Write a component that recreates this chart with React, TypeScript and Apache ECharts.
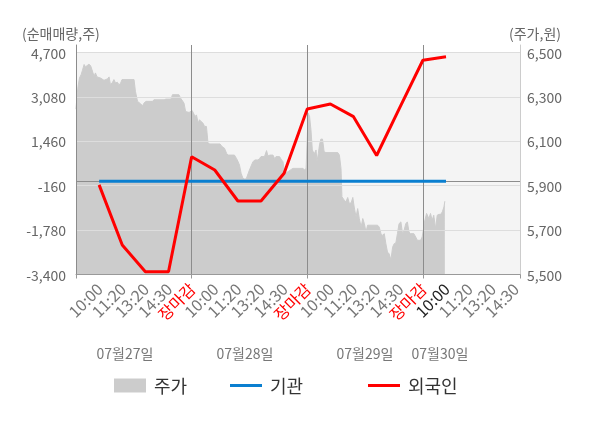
import React, { useEffect, useRef } from 'react';
import * as echarts from 'echarts';

// x-axis tick labels (index units); index 0 = session open of first day (no label)
const xLabels = [
  '', '10:00', '11:20', '13:20', '14:30', '장마감',
  '10:00', '11:20', '13:20', '14:30', '장마감',
  '10:00', '11:20', '13:20', '14:30', '장마감',
  '10:00', '11:20', '13:20', '14:30',
];
const currentIndex = 16;
const dayBoundaries = [5, 10, 15];
const dateLabels = ['07월27일', '07월28일', '07월29일', '07월30일'];

// net buy (shares) at indices 1..16
const foreignNet = [-130, -2324, -3298, -3298, 898, 413, -718, -718, 292, 2639, 2822, 2358, 942, 2690, 4416, 4547];
const institutionNet = [0, 0, 0, 0, 0, 0, 0, 0, 0, 0, 0, 0, 0, 0, 0, 0];

const leftTicks = [-3400, -1780, -160, 1460, 3080, 4700];
const rightTicks = [5500, 5700, 5900, 6100, 6300, 6500];

// price (원), [time in index units, price]
const priceDay1: [number, number][] = [
  [0, 6245], [0.04, 6300], [0.09, 6348], [0.15, 6385], [0.22, 6400], [0.28, 6420], [0.35, 6446], [0.41, 6435],
  [0.48, 6441], [0.56, 6447], [0.63, 6441], [0.69, 6423], [0.78, 6393], [0.84, 6408], [0.91, 6390], [1.06, 6385],
  [1.21, 6375], [1.36, 6381], [1.43, 6390], [1.49, 6355], [1.58, 6366], [1.64, 6378], [1.71, 6363], [1.79, 6366],
  [1.86, 6355], [1.92, 6360], [1.99, 6378], [2.51, 6378], [2.57, 6325], [2.66, 6280], [2.72, 6275], [2.79, 6269],
  [2.88, 6260], [2.94, 6272], [3.03, 6280], [3.31, 6280], [3.37, 6287], [3.81, 6287], [3.89, 6290], [4.11, 6290],
  [4.17, 6310], [4.45, 6310], [4.52, 6295], [4.67, 6272], [4.74, 6234], [4.89, 6230],
];
const priceDay2: [number, number][] = [
  [5.02, 6239], [5.15, 6212], [5.21, 6219], [5.28, 6182], [5.34, 6197], [5.41, 6189], [5.49, 6182], [5.56, 6167],
  [5.64, 6167], [5.71, 6091], [5.79, 6088], [6.23, 6088], [6.29, 6079], [6.36, 6073], [6.42, 6069], [6.51, 6046],
  [6.57, 6038], [6.85, 6038], [6.94, 6023], [7.01, 6008], [7.07, 5993], [7.14, 5956], [7.22, 5933], [7.31, 5929],
  [7.37, 5933], [7.5, 5971], [7.59, 5993], [7.65, 6008], [7.74, 6016], [7.87, 6016], [7.94, 6023], [8.0, 6031],
  [8.15, 6031], [8.24, 6058], [8.3, 6034], [8.39, 6038], [8.52, 6038], [8.58, 6023], [8.65, 6031], [8.8, 6031],
  [8.89, 6016], [8.95, 6008], [9.02, 5956], [9.17, 5963], [9.32, 5974], [9.38, 5978], [9.82, 5978], [9.88, 5971],
  [9.95, 5978],
];
const priceDay3: [number, number][] = [
  [10.0, 6114], [10.04, 6227], [10.1, 6212], [10.16, 6152], [10.22, 6061], [10.3, 6043], [10.38, 6061], [10.42, 6008],
  [10.48, 6046], [10.53, 6084], [10.59, 6110], [10.66, 6110], [10.73, 6053], [10.81, 6049], [11.32, 6049], [11.39, 6038],
  [11.46, 5978], [11.5, 5850], [11.6, 5835], [11.67, 5827], [11.75, 5847], [11.82, 5820], [11.9, 5823], [11.97, 5847],
  [12.03, 5804], [12.11, 5759], [12.18, 5797], [12.25, 5752], [12.33, 5714], [12.4, 5752], [12.47, 5729], [12.54, 5691],
  [12.61, 5722], [13.04, 5722], [13.11, 5714], [13.19, 5684], [13.26, 5676], [13.33, 5684], [13.4, 5639], [13.47, 5601],
  [13.54, 5593], [13.62, 5566], [13.69, 5623], [13.76, 5639], [13.83, 5642], [13.9, 5684], [13.97, 5729], [14.05, 5737],
  [14.12, 5684], [14.19, 5699], [14.26, 5729], [14.33, 5737], [14.4, 5691], [14.47, 5684], [14.61, 5684], [14.69, 5669],
  [14.76, 5654], [14.9, 5654], [14.97, 5669],
];
const priceDay4: [number, number][] = [
  [15.02, 5700], [15.07, 5737], [15.16, 5775], [15.26, 5752], [15.33, 5775], [15.4, 5744], [15.47, 5767], [15.55, 5707],
  [15.62, 5767], [15.69, 5771], [15.77, 5771], [15.84, 5782], [15.91, 5804], [15.95, 5830],
];

const FONT = "'Noto Sans CJK KR', 'Noto Sans', sans-serif";

export default function App() {
  const ref = useRef<HTMLDivElement>(null);
  useEffect(() => {
    if (!ref.current) return;
    const chart = echarts.init(ref.current, null, { renderer: 'svg' });
    const xMax = 19.2;
    const topPad = 7.5 / 44.4; // space above the top tick, in tick intervals
    const leftStep = (leftTicks[leftTicks.length - 1] - leftTicks[0]) / (leftTicks.length - 1);
    const rightStep = (rightTicks[rightTicks.length - 1] - rightTicks[0]) / (rightTicks.length - 1);
    const leftMax = leftTicks[leftTicks.length - 1] + leftStep * topPad;
    const rightMax = rightTicks[rightTicks.length - 1] + rightStep * topPad;
    const fmt = (v: number) => Math.round(v).toLocaleString('en-US');
    const price = [...priceDay1, ...priceDay2, ...priceDay3, ...priceDay4];

    const legendBase = {
      top: 376.5,
      padding: 0,
      itemWidth: 32,
      selectedMode: false,
      textStyle: { fontSize: 18, color: '#333', fontFamily: FONT, padding: [0, 0, 0, 3] },
    };

    const option: any = {
      animation: false,
      textStyle: { fontFamily: FONT },
      grid: { left: 76, right: 80, top: 45, bottom: 153.5, outerBoundsMode: 'none', containLabel: false },
      xAxis: {
        type: 'value',
        min: 0,
        max: xMax,
        interval: 1,
        z: 5,
        axisLine: { show: true, onZero: false, lineStyle: { color: '#999', width: 1 } },
        axisTick: { show: true, customValues: [0, ...dayBoundaries, xMax], length: 4, lineStyle: { color: '#999' } },
        splitLine: { show: false },
        axisLabel: {
          rotate: 45,
          margin: 11,
          fontSize: 16,
          color: '#777',
          fontFamily: FONT,
          formatter: (v: number) => {
            const i = Math.round(v);
            if (Math.abs(v - i) > 1e-6 || i <= 0 || i >= xLabels.length) return '';
            const s = xLabels[i];
            if (s === '장마감') return '{c|' + s + '}';
            if (i === currentIndex) return '{n|' + s + '}';
            return s;
          },
          rich: {
            c: { color: '#ff0000', fontSize: 16, fontFamily: FONT },
            n: { color: '#222', fontSize: 16, fontFamily: FONT },
          },
        },
      },
      yAxis: [
        {
          type: 'value',
          position: 'left',
          min: leftTicks[0],
          max: leftMax,
          z: 5,
          axisLine: { show: true, onZero: false, lineStyle: { color: '#8c8c8c' } },
          axisTick: { show: false },
          splitLine: { show: false },
          axisLabel: { customValues: leftTicks, formatter: fmt, color: '#666', fontSize: 14, margin: 10, fontFamily: FONT },
        },
        {
          type: 'value',
          position: 'right',
          min: rightTicks[0],
          max: rightMax,
          z: 5,
          axisLine: { show: true, onZero: false, lineStyle: { color: '#cccccc' } },
          axisTick: { show: false },
          splitLine: { show: false },
          axisLabel: { customValues: rightTicks, formatter: fmt, color: '#666', fontSize: 14, margin: 7, fontFamily: FONT },
        },
        {
          type: 'value',
          position: 'left',
          min: 0,
          max: leftTicks.length - 1 + topPad,
          interval: 1,
          z: 4,
          axisLine: { show: false, onZero: false },
          axisTick: { show: false },
          axisLabel: { show: false },
          splitLine: { show: true, showMaxLine: false, lineStyle: { color: '#dddddd', width: 1 } },
        },
      ],
      legend: [
        { ...legendBase, left: 114, itemHeight: 14, data: [{ name: '주가', icon: 'rect' }] },
        { ...legendBase, left: 230, itemHeight: 3, data: [{ name: '기관', icon: 'rect' }] },
        { ...legendBase, left: 368, itemHeight: 3, data: [{ name: '외국인', icon: 'rect' }] },
      ],
      graphic: [
        { type: 'text', x: 22, y: 33, style: { text: '(순매매량,주)', fill: '#666', fontSize: 14, fontFamily: FONT, align: 'left', verticalAlign: 'middle' } },
        { type: 'text', x: 509, y: 33, style: { text: '(주가,원)', fill: '#666', fontSize: 14, fontFamily: FONT, align: 'left', verticalAlign: 'middle' } },
        ...dateLabels.map((d, i) => ({
          type: 'text',
          x: [125, 245, 365, 440][i],
          y: 353,
          style: { text: d, fill: '#777', fontSize: 14, fontFamily: FONT, align: 'center', verticalAlign: 'middle' },
        })),
      ],
      series: [
        {
          name: '주가',
          type: 'line',
          yAxisIndex: 1,
          data: price,
          symbol: 'none',
          silent: true,
          z: 2,
          lineStyle: { width: 1, color: '#cccccc' },
          itemStyle: { color: '#cccccc' },
          areaStyle: { color: '#cccccc', opacity: 1, origin: 'start' },
          markArea: {
            silent: true,
            label: { show: false },
            itemStyle: { color: '#f4f4f4' },
            data: [[{ xAxis: 0, yAxis: rightTicks[0] }, { xAxis: xMax, yAxis: rightTicks[rightTicks.length - 1] }]],
          },
          markLine: {
            silent: true,
            symbol: ['none', 'none'],
            label: { show: false },
            lineStyle: { color: '#8c8c8c', width: 1, type: 'solid' },
            data: dayBoundaries.map((x) => ({ xAxis: x })),
          },
        },
        {
          name: '기관',
          type: 'line',
          yAxisIndex: 0,
          data: institutionNet.map((v, i) => [i + 1, v]),
          symbol: 'none',
          z: 9,
          lineStyle: { color: '#0a7fd0', width: 3 },
          itemStyle: { color: '#0a7fd0' },
          markLine: {
            silent: true,
            symbol: ['none', 'none'],
            label: { show: false },
            lineStyle: { color: '#8c8c8c', width: 1, type: 'solid' },
            data: [{ yAxis: 0 }],
          },
        },
        {
          name: '외국인',
          type: 'line',
          yAxisIndex: 0,
          data: foreignNet.map((v, i) => [i + 1, v]),
          symbol: 'none',
          z: 10,
          lineStyle: { color: '#ff0000', width: 3 },
          itemStyle: { color: '#ff0000' },
        },
      ],
    };
    chart.setOption(option);
    return () => chart.dispose();
  }, []);
  return <div ref={ref} style={{ position: 'fixed', left: 0, top: 0, width: 600, height: 428 }} />;
}
